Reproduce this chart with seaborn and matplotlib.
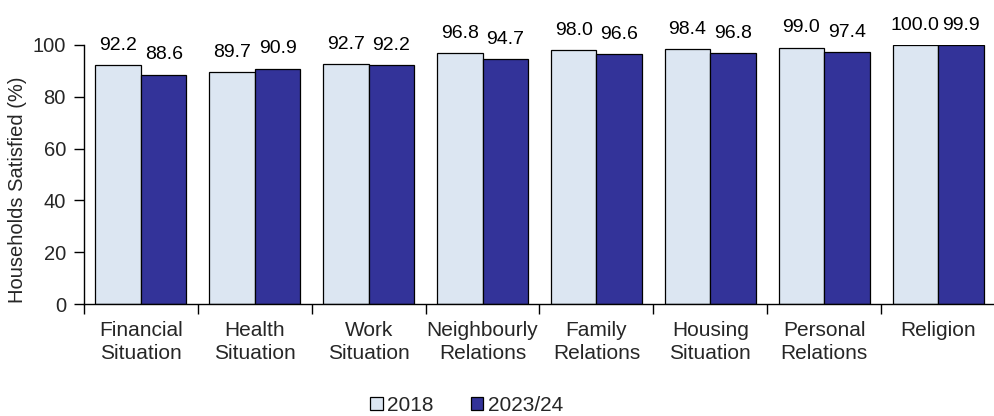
import matplotlib
matplotlib.use("Agg")
import matplotlib.pyplot as plt
import seaborn as sns
import pandas as pd
from matplotlib.ticker import FixedLocator

categories = ["Financial\nSituation", "Health\nSituation", "Work\nSituation",
              "Neighbourly\nRelations", "Family\nRelations", "Housing\nSituation",
              "Personal\nRelations", "Religion"]
years = ["2018", "2023/24"]
values_2018 = [92.2, 89.7, 92.7, 96.8, 98.0, 98.4, 99.0, 100.0]
values_2024 = [88.6, 90.9, 92.2, 94.7, 96.6, 96.8, 97.4, 99.9]
yticks = [0, 20, 40, 60, 80, 100]

df = pd.DataFrame({
    "category": categories * 2,
    "year": [years[0]] * len(categories) + [years[1]] * len(categories),
    "value": values_2018 + values_2024,
})

sns.set_theme(style="white")
plt.rcParams["font.family"] = ["Liberation Sans", "DejaVu Sans"]

fig = plt.figure(figsize=(9.95, 4.16), dpi=100)
ax = fig.add_axes([84 / 995, 112 / 416, 1 - 84 / 995, (304 - 45) / 416])

sns.barplot(data=df, x="category", y="value", hue="year", order=categories,
            hue_order=years, palette=["#DCE6F2", "#333399"], saturation=1,
            edgecolor="black", linewidth=0.9, width=0.8, ax=ax)

for container in ax.containers:
    ax.bar_label(container, fmt="%.1f", padding=8, fontsize=14, color="black")
for t in ax.texts:
    t.set_clip_on(False)

ax.set_ylim(0, 100)
ax.set_xlim(-0.5, len(categories) - 0.5)
ax.set_yticks(yticks)
ax.tick_params(axis="y", which="major", direction="out", length=7, width=1,
               color="black", left=True, labelsize=14.5, pad=6)
ax.tick_params(axis="x", which="major", length=0, labelsize=15, pad=12)
ax.xaxis.set_minor_locator(FixedLocator([i - 0.5 for i in range(len(categories) + 1)]))
ax.tick_params(axis="x", which="minor", direction="out", length=7, width=1,
               color="black", bottom=True)
for lbl in ax.get_xticklabels():
    lbl.set_linespacing(1.3)

sns.despine(ax=ax, top=True, right=True)
for s in ("left", "bottom"):
    ax.spines[s].set_color("black")
    ax.spines[s].set_linewidth(1)

ax.set_xlabel("")
ax.set_ylabel("Households Satisfied (%)", fontsize=14.5, labelpad=4, y=0.44)

ax.legend(loc="lower center", bbox_to_anchor=(0.42, -0.46), ncol=2, frameon=False,
          fontsize=15, handlelength=0.6, handleheight=0.6, handletextpad=0.2,
          columnspacing=1.8, borderaxespad=0)
for h in ax.get_legend().legend_handles:
    h.set_edgecolor("black")
    h.set_linewidth(0.9)

fig.savefig("out.png", dpi=100)
